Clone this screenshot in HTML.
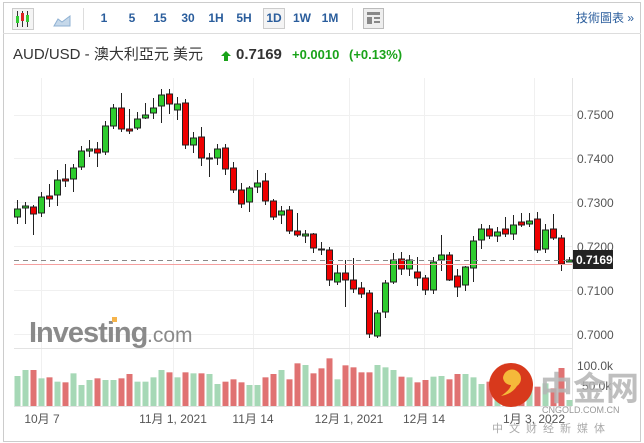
<!DOCTYPE html>
<html><head><meta charset="utf-8"><style>
html,body{margin:0;padding:0;background:#fff;width:644px;height:443px;overflow:hidden;font-family:"Liberation Sans","Noto Sans CJK TC",sans-serif}
</style></head><body>
<svg id="s" width="644" height="443" xmlns="http://www.w3.org/2000/svg" style="position:absolute;left:0;top:0">
<rect x="3.5" y="2.5" width="637" height="439" fill="#fff" stroke="#ccc"/>
<line x1="3" y1="33.5" x2="641" y2="33.5" stroke="#ddd"/>
<rect x="12.5" y="8.5" width="21" height="21" fill="#f4f4f4" stroke="#ccc"/>
<g stroke="#333" stroke-width="1"><line x1="17.5" y1="11" x2="17.5" y2="27"/><line x1="22.5" y1="11" x2="22.5" y2="27"/><line x1="27.5" y1="11" x2="27.5" y2="27"/></g>
<rect x="16" y="16" width="3" height="7" fill="#3c3"/><rect x="21" y="13" width="3" height="8" fill="#d22"/><rect x="26" y="15" width="3" height="7" fill="#3c3"/>
<path d="M54 26 L58 19 L62 22 L70 16 L70 26 Z" fill="#c5d8ea" stroke="#8fb1d3"/>
<line x1="83.5" y1="8" x2="83.5" y2="30" stroke="#ddd"/>
<g font-size="12" font-weight="bold" fill="#2a5d9c" text-anchor="middle">
<text x="104" y="22">1</text><text x="132" y="22">5</text><text x="160" y="22">15</text><text x="188" y="22">30</text><text x="216" y="22">1H</text><text x="244" y="22">5H</text>
<rect x="263.5" y="8.5" width="21" height="20" fill="#f4f4f4" stroke="#ccc"/>
<text x="274" y="22">1D</text><text x="302" y="22">1W</text><text x="330" y="22">1M</text></g>
<line x1="352.5" y1="8" x2="352.5" y2="30" stroke="#ddd"/>
<rect x="363.5" y="8.5" width="20" height="20" fill="#eee" stroke="#bbb"/>
<rect x="367" y="12" width="13" height="3" fill="#888"/><rect x="367" y="17" width="5" height="7" fill="#888"/><rect x="374" y="17" width="6" height="2" fill="#888"/><rect x="374" y="21" width="6" height="2" fill="#888"/>
<text x="634" y="22" font-size="12" fill="#2a5d9c" text-anchor="end">技術圖表 »</text>
<text x="13" y="59" font-size="15" fill="#333">AUD/USD - 澳大利亞元 美元</text>
<path d="M226 51 L231 56 L228 56 L228 61 L224 61 L224 56 L221 56 Z" fill="#1aa31a"/>
<text x="236" y="59" font-size="15" font-weight="bold" fill="#333">0.7169</text>
<text x="292" y="59" font-size="13" font-weight="bold" fill="#1aa31a">+0.0010</text>
<text x="349" y="59" font-size="13" font-weight="bold" fill="#1aa31a">(+0.13%)</text>
<g id="grid" stroke="#f0f0f0"></g>
<line x1="572.5" y1="78" x2="572.5" y2="406" stroke="#e3e3e3"/>
<line x1="14" y1="348.5" x2="572" y2="348.5" stroke="#e3e3e3"/>
<line x1="14" y1="406.5" x2="572" y2="406.5" stroke="#e3e3e3"/>
<text x="29" y="342" font-size="29" font-weight="bold" fill="#8a8a8a" letter-spacing="-1">Investing</text>
<text x="147" y="342" font-size="21" fill="#8a8a8a">.com</text>
<rect x="112" y="317" width="5" height="5" fill="#f6b44b"/>
<g id="vol"></g>
<g id="cd"></g>
<line x1="14" y1="260.5" x2="572" y2="260.5" stroke="#888" stroke-dasharray="5,4"/>
<line x1="14" y1="264.5" x2="572" y2="264.5" stroke="#f4a0a0"/>
<g font-size="12" fill="#555">
<text x="577" y="119">0.7500</text><text x="577" y="163">0.7400</text><text x="577" y="207">0.7300</text><text x="577" y="251">0.7200</text><text x="577" y="295">0.7100</text><text x="577" y="339">0.7000</text>
<text x="577" y="370">100.0k</text><text x="582" y="390">50.0k</text>
</g>
<rect x="573" y="250" width="40" height="19" fill="#222"/>
<text x="576" y="264" font-size="12" font-weight="bold" fill="#fff">0.7169</text>
<g font-size="12" fill="#555" text-anchor="middle">
<text x="42" y="423">10月 7</text><text x="173" y="423">11月 1, 2021</text><text x="253" y="423">11月 14</text><text x="349" y="423">12月 1, 2021</text><text x="424" y="423">12月 14</text><text x="534" y="423">1月 3, 2022</text>
</g>
<circle cx="511" cy="385" r="22" fill="#d8391c"/>
<path d="M503 378 a9 9 0 1 1 14 8 q-5 8 -16 10 q9 -6 10 -11 a8 8 0 0 1 -8 -7z" fill="#f5b93a"/>
<text x="540" y="400" font-size="33" font-weight="bold" fill="#b5b5b5" opacity="0.85">中金网</text>
<text x="542" y="413" font-size="9" fill="#999">CNGOLD.COM.CN</text>
<text x="492" y="432" font-size="11" fill="#aaa" letter-spacing="6">中文财经新媒体</text>
</svg>
<script>
var C=[[217,209,200,224],[208,206,202,224],[207,214,205,235],[213,197,192,217],[196,199,184,207],[195,180,170,206],[179,181,164,187],[179,168,164,192],[167,151,146,170],[151,149,140,157],[149,153,142,167],[152,126,121,155],[126,108,104,129],[108,129,93,132],[129,131,109,134],[128,119,112,130],[118,115,103,119],[113,108,98,119],[106,95,89,123],[94,104,89,114],[110,104,97,120],[103,145,99,149],[145,138,132,153],[137,158,127,166],[158,158,153,177],[158,149,144,165],[148,169,144,175],[168,190,162,193],[190,204,183,208],[202,188,186,212],[187,183,170,193],[181,201,173,205],[201,217,199,220],[215,211,206,224],[210,231,206,234],[231,235,213,237],[236,234,230,243],[234,248,233,253],[249,250,242,255],[250,280,247,286],[282,273,264,285],[273,280,260,307],[280,289,258,293],[288,294,282,298],[293,334,290,338],[336,313,310,338],[312,283,280,318],[282,260,253,284],[259,269,252,275],[269,260,255,276],[272,278,257,286],[278,290,275,295],[290,262,257,294],[260,255,235,271],[255,280,252,281],[276,287,269,297],[285,267,266,291],[268,241,236,282],[240,229,224,249],[229,236,225,239],[236,232,227,242],[229,234,217,237],[234,225,215,240],[222,225,213,227],[224,221,213,227],[219,250,212,253],[249,230,224,253],[229,238,214,240],[238,264,235,271],[262,260,257,262]];
var V=[78,60,60,85,82,95,97,70,105,90,85,90,90,85,72,95,95,82,60,67,82,67,70,70,72,102,95,88,97,105,105,82,72,60,88,40,45,70,55,25,88,46,52,67,67,45,52,60,80,82,97,90,80,78,88,72,72,82,102,95,105,100,100,100,100,110,100,115,54,150];
var ns="http://www.w3.org/2000/svg";
function el(p,t,a){var e=document.createElementNS(ns,t);for(var k in a)e.setAttribute(k,a[k]);p.appendChild(e);return e;}
var g=document.getElementById('grid');
[115,158,202,246,290,334].forEach(function(y){el(g,'line',{x1:14,x2:572,y1:y+.5,y2:y+.5});});
[41,173,253,349,424,534].forEach(function(x){el(g,'line',{x1:x+.5,x2:x+.5,y1:78,y2:406});});
var cd=document.getElementById('cd'),vg=document.getElementById('vol');
C.forEach(function(c,i){
 var x=17.5+i*8,o=c[0],cl=c[1],up=cl<=o;
 var col=up?'#2ecc2e':'#e00';
 el(cd,'line',{x1:x,x2:x,y1:c[2],y2:c[3],stroke:'#222','stroke-width':1});
 var t=Math.min(o,cl),h=Math.max(Math.abs(o-cl),1);
 el(cd,'rect',{x:x-3,y:t,width:6,height:h,fill:col,stroke:'#222','stroke-width':1});
 var vh=(168-V[i])/3;
 el(vg,'rect',{x:x-3,y:406-vh,width:6,height:vh,fill:up?'#a6d8b6':'#e07272'});
});
</script>
</body></html>
